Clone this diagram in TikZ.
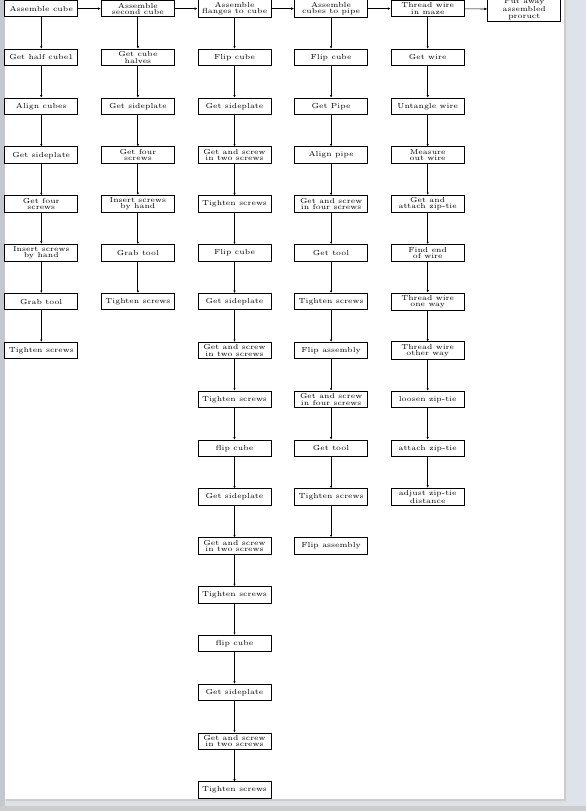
\documentclass[tikz,border=0pt]{standalone}
\usetikzlibrary{arrows.meta}
\definecolor{bgblue}{RGB}{222,226,234}
\definecolor{leftgray}{RGB}{196,199,204}
\definecolor{botgray}{RGB}{204,205,207}
\tikzset{
  box/.style={draw=black, line width=0.65pt, fill=white, minimum width=50.4pt, minimum height=11.4pt,
    inner xsep=2pt, inner ysep=1.6pt, align=center, font=\fontsize{5}{4.3}\selectfont},
  vline/.style={line width=0.75pt, -{Latex[length=1.6pt,width=1.6pt]}},
  hline/.style={line width=0.45pt, -{Latex[length=2pt,width=1.8pt]}},
}
\begin{document}
\begin{tikzpicture}[x=0.69pt,y=-0.69pt]
\useasboundingbox (0,0) rectangle (586,811);
% viewer background
\fill[bgblue] (0,0) rectangle (586,811);
\fill[leftgray] (0,0) rectangle (4.5,811);
\fill[botgray] (0,806) rectangle (586,811);
\fill[black!12] (6,-5) rectangle (568,803);
\fill[black!20] (5.5,-5) rectangle (566,801);
\fill[white] (5,-5) rectangle (563.5,799);
% column 1
\node[box] (c1r0) at (41.3,8.6) {Assemble cube};
\node[box] (c1r1) at (41.3,57.45) {Get half cube1};
\node[box] (c1r2) at (41.3,106.3) {Align cubes};
\node[box] (c1r3) at (41.3,155.15) {Get sideplate};
\node[box] (c1r4) at (41.3,204.0) {Get four\\screws};
\node[box] (c1r5) at (41.3,252.85) {Insert screws\\by hand};
\node[box] (c1r6) at (41.3,301.7) {Grab tool};
\node[box] (c1r7) at (41.3,350.55) {Tighten screws};
% column 2
\node[box] (c2r0) at (137.9,8.6) {Assemble\\second cube};
\node[box] (c2r1) at (137.9,57.45) {Get cube\\halves};
\node[box] (c2r2) at (137.9,106.3) {Get sideplate};
\node[box] (c2r3) at (137.9,155.15) {Get four\\screws};
\node[box] (c2r4) at (137.9,204.0) {Insert screws\\by hand};
\node[box] (c2r5) at (137.9,252.85) {Grab tool};
\node[box] (c2r6) at (137.9,301.7) {Tighten screws};
% column 3
\node[box] (c3r0) at (234.5,8.6) {Assemble\\flanges to cube};
\node[box] (c3r1) at (234.5,57.45) {Flip cube};
\node[box] (c3r2) at (234.5,106.3) {Get sideplate};
\node[box] (c3r3) at (234.5,155.15) {Get and screw\\in two screws};
\node[box] (c3r4) at (234.5,204.0) {Tighten screws};
\node[box] (c3r5) at (234.5,252.85) {Flip cube};
\node[box] (c3r6) at (234.5,301.7) {Get sideplate};
\node[box] (c3r7) at (234.5,350.55) {Get and screw\\in two screws};
\node[box] (c3r8) at (234.5,399.4) {Tighten screws};
\node[box] (c3r9) at (234.5,448.25) {flip cube};
\node[box] (c3r10) at (234.5,497.1) {Get sideplate};
\node[box] (c3r11) at (234.5,545.95) {Get and screw\\in two screws};
\node[box] (c3r12) at (234.5,594.8) {Tighten screws};
\node[box] (c3r13) at (234.5,643.65) {flip cube};
\node[box] (c3r14) at (234.5,692.5) {Get sideplate};
\node[box] (c3r15) at (234.5,741.35) {Get and screw\\in two screws};
\node[box] (c3r16) at (234.5,790.2) {Tighten screws};
% column 4
\node[box] (c4r0) at (331.1,8.6) {Assemble\\cubes to pipe};
\node[box] (c4r1) at (331.1,57.45) {Flip cube};
\node[box] (c4r2) at (331.1,106.3) {Get Pipe};
\node[box] (c4r3) at (331.1,155.15) {Align pipe};
\node[box] (c4r4) at (331.1,204.0) {Get and screw\\in four screws};
\node[box] (c4r5) at (331.1,252.85) {Get tool};
\node[box] (c4r6) at (331.1,301.7) {Tighten screws};
\node[box] (c4r7) at (331.1,350.55) {Flip assembly};
\node[box] (c4r8) at (331.1,399.4) {Get and screw\\in four screws};
\node[box] (c4r9) at (331.1,448.25) {Get tool};
\node[box] (c4r10) at (331.1,497.1) {Tighten screws};
\node[box] (c4r11) at (331.1,545.95) {Flip assembly};
% column 5
\node[box] (c5r0) at (427.7,8.6) {Thread wire\\in maze};
\node[box] (c5r1) at (427.7,57.45) {Get wire};
\node[box] (c5r2) at (427.7,106.3) {Untangle wire};
\node[box] (c5r3) at (427.7,155.15) {Measure\\out wire};
\node[box] (c5r4) at (427.7,204.0) {Get and\\attach zip-tie};
\node[box] (c5r5) at (427.7,252.85) {Find end\\of wire};
\node[box] (c5r6) at (427.7,301.7) {Thread wire\\one way};
\node[box] (c5r7) at (427.7,350.55) {Thread wire\\other way};
\node[box] (c5r8) at (427.7,399.4) {loosen zip-tie};
\node[box] (c5r9) at (427.7,448.25) {attach zip-tie};
\node[box] (c5r10) at (427.7,497.1) {adjust zip-tie\\distance};
% column 6
\node[box] (c6r0) at (524.3,9.2) {Put away\\assembled\\proruct};
% vertical connectors
\foreach \c/\n in {1/7,2/6,3/16,4/11,5/10}{
  \foreach \r in {1,...,\n}{
    \pgfmathtruncatemacro\p{\r-1}
    \draw[vline] (c\c r\p) -- (c\c r\r);
  }
}
% top row connectors
\foreach \a/\b in {1/2,2/3,3/4,4/5,5/6}{
  \draw[hline] (c\a r0) -- (c\b r0);
}
\end{tikzpicture}
\end{document}
